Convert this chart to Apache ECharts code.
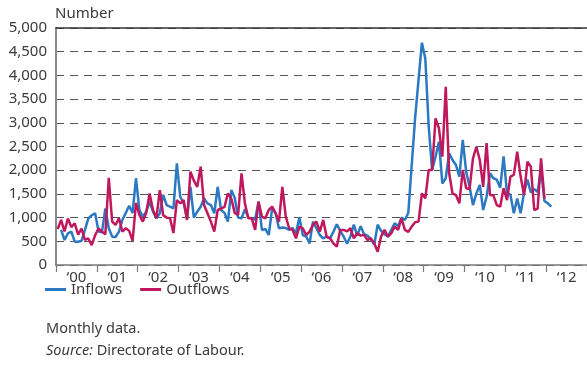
<!DOCTYPE html>
<html>
<head>
<meta charset="utf-8">
<script src="https://cdn.jsdelivr.net/npm/echarts@6/dist/echarts.min.js"></script>
<style>
  html, body { margin: 0; padding: 0; background: #fff; }
  #main { width: 587px; height: 391px; }
</style>
</head>
<body>
<div id="main"></div>
<script>
// year labels on the x axis
var years = ['\u201800', '\u201801', '\u201802', '\u201803', '\u201804', '\u201805', '\u201806',
  '\u201807', '\u201808', '\u201809', '\u201810', '\u201811', '\u201812'];

// monthly values, Jan 2000 onwards (one row per year)
var inflows = [
  null, 740, 527, 668, 705, 492, 492, 510, 740, 985, 1050, 1090,
  705, 690, 1195, 775, 598, 590, 705, 950, 1100, 1250, 1100, 1830,
  1160, 1020, 1125, 1335, 1125, 985, 1090, 1480, 1265, 1230, 1195, 2145,
  1440, 1300, 985, 1650, 1000, 1125, 1230, 1405, 1300, 1265, 1090, 1650,
  1160, 1100, 915, 1580, 1420, 1000, 985, 1180, 1000, 985, 960, 1335,
  740, 760, 633, 1195, 1090, 775, 790, 780, 740, 780, 668, 1005,
  633, 600, 457, 915, 775, 633, 563, 600, 563, 700, 860, 720,
  600, 450, 600, 850, 620, 820, 650, 620, 550, 430, 850, 720,
  650, 600, 740, 880, 820, 1000, 950, 1100, 2100, 3100, 3900, 4690,
  4350, 2920, 2005, 2285, 2600, 1720, 1830, 2355, 2215, 2110, 1865, 2640,
  1970, 1650, 1265, 1510, 1690, 1160, 1440, 1935, 1830, 1800, 1630, 2290,
  1520, 1480, 1090, 1400, 1090, 1530, 1800, 1530, 1600, 1540, 2020, 1350,
  1300, 1230
];

var outflows = [
  760, 950, 710, 980, 800, 880, 640, 770, 530, 560, 420, 630,
  770, 700, 650, 1840, 915, 845, 985, 705, 775, 720, 510, 1310,
  1055, 915, 1100, 1510, 1160, 990, 1580, 1050, 1000, 985, 675, 1370,
  1300, 1370, 950, 1970, 1780, 1650, 2075, 1265, 1090, 915, 705, 1160,
  1190, 1225, 1510, 1400, 1100, 1055, 1935, 1300, 985, 985, 740, 1335,
  1020, 985, 1160, 1230, 1100, 915, 1650, 1020, 775, 740, 563, 810,
  775, 633, 705, 850, 915, 705, 950, 600, 563, 457, 387, 740,
  740, 710, 775, 563, 670, 620, 635, 527, 560, 457, 281, 600,
  740, 600, 670, 810, 740, 985, 740, 700, 810, 900, 915, 1510,
  1405, 2005, 2005, 3095, 2885, 2285, 3760, 1935, 1510, 1475, 1300, 2005,
  1618, 1600, 2250, 2495, 2215, 1650, 2570, 1477, 1470, 1265, 1230, 1618,
  1370, 1865, 1900, 2390, 1865, 1477, 2180, 2075, 1160, 1190, 2250, 1400
];

// one hidden category per month, so each point sits in the middle of its month
var months = [];
for (var y = 0; y < years.length; y++) {
  for (var m = 1; m <= 12; m++) {
    months.push(years[y] + '-' + m);
  }
}

var FONT = '"Noto Sans", sans-serif';
var TXT = '#3a3a3a';

var myChart = echarts.init(document.getElementById('main'));
var option = {
  animation: false,
  textStyle: { fontFamily: FONT },
  grid: { left: 56, right: -6, top: 28, bottom: 126 },
  legend: {
    data: ['Inflows', 'Outflows'],
    left: 45,
    top: 282,
    padding: 0,
    icon: 'rect',
    itemWidth: 21,
    itemHeight: 3,
    itemGap: 18,
    textStyle: { fontSize: 15, color: TXT, fontFamily: FONT }
  },
  graphic: [
    {
      type: 'text', left: 55, top: 6,
      style: { text: 'Number', fontSize: 15, fill: TXT, fontFamily: FONT }
    },
    {
      type: 'text', left: 46, top: 321,
      style: { text: 'Monthly data.', fontSize: 14.5, fill: TXT, fontFamily: FONT }
    },
    {
      type: 'text', left: 46, top: 343,
      style: {
        text: '{i|Source:} Directorate of Labour.',
        fontSize: 14.5, fill: TXT, fontFamily: FONT,
        rich: { i: { fontStyle: 'italic', fontSize: 14.5, fill: TXT, fontFamily: FONT } }
      }
    }
  ],
  xAxis: [
    {
      type: 'category',
      data: years,
      position: 'bottom',
      boundaryGap: true,
      axisLine: { lineStyle: { color: '#7a7a7a', width: 1.5 } },
      axisTick: { show: true, length: 7, lineStyle: { color: '#7a7a7a', width: 1.2 } },
      axisLabel: { fontSize: 15, color: TXT, margin: 5, fontFamily: FONT }
    },
    {
      type: 'category',
      data: months,
      position: 'top',
      boundaryGap: true,
      axisLine: { show: true, lineStyle: { color: '#333', width: 1.5 } },
      axisTick: { show: false },
      axisLabel: { show: false },
      splitLine: { show: false }
    }
  ],
  yAxis: {
    type: 'value',
    min: 0,
    max: 5000,
    interval: 500,
    axisLine: { show: true, lineStyle: { color: '#8a8a8a', width: 2 } },
    axisTick: { show: false },
    axisLabel: {
      fontSize: 15, color: TXT, margin: 9, fontFamily: FONT,
      formatter: function (v) { return v.toLocaleString('en-US'); }
    },
    splitLine: { lineStyle: { color: '#555', type: [8, 6], width: 1 } }
  },
  series: [
    {
      name: 'Inflows',
      type: 'line',
      xAxisIndex: 1,
      data: inflows,
      symbol: 'none',
      connectNulls: false,
      itemStyle: { color: '#2b79c2' },
      lineStyle: { color: '#2b79c2', width: 2.5 }
    },
    {
      name: 'Outflows',
      type: 'line',
      xAxisIndex: 1,
      data: outflows,
      symbol: 'none',
      itemStyle: { color: '#c0175d' },
      lineStyle: { color: '#c0175d', width: 2.5 }
    }
  ]
};
myChart.setOption(option);
</script>
</body>
</html>
